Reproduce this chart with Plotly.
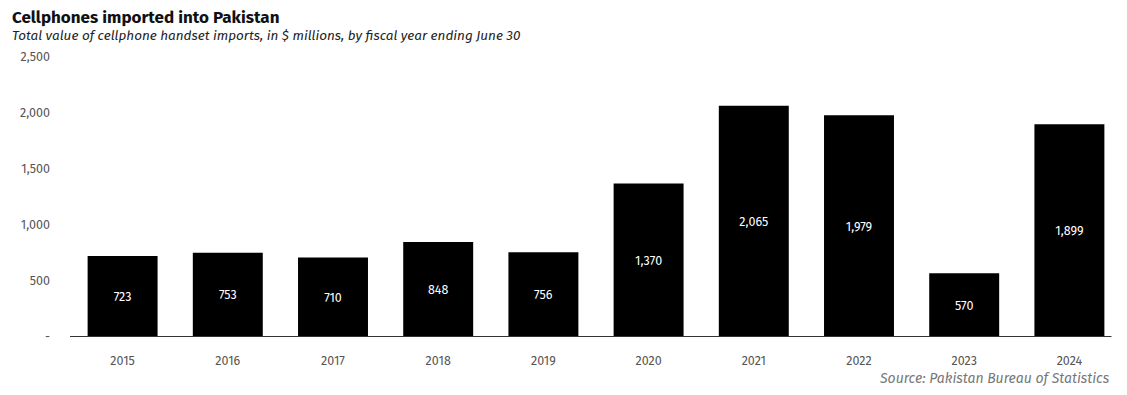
import plotly.graph_objects as go

years = ["2015", "2016", "2017", "2018", "2019", "2020", "2021", "2022", "2023", "2024"]
values = [723, 753, 710, 848, 756, 1370, 2065, 1979, 570, 1899]
ytick_vals = [0, 500, 1000, 1500, 2000, 2500]
ytick_text = ["-", "500", "1,000", "1,500", "2,000", "2,500"]

title = "Cellphones imported into Pakistan"
subtitle = "Total value of cellphone handset imports, in $ millions, by fiscal year ending June 30"
source = "Source: Pakistan Bureau of Statistics"

FONT = "Fira Sans, Noto Sans, Open Sans, sans-serif"

fig = go.Figure()
fig.add_trace(go.Bar(
    x=years, y=values,
    marker=dict(color="#000000", line=dict(width=0)),
    width=0.665,
    text=[f"{v:,}" for v in values],
    textposition="inside",
    insidetextanchor="middle",
    textfont=dict(color="white", size=12.5, family=FONT),
    hoverinfo="skip",
))

# page body has an 8px margin; compensate so the plot area sits where the reference has it
fig.update_layout(
    width=1119, height=387,
    margin=dict(l=62, r=5, t=49, b=58),
    paper_bgcolor="white", plot_bgcolor="white",
    showlegend=False,
    font=dict(family=FONT, color="#555555", size=12),
    xaxis=dict(
        type="category", range=[-0.5, 9.5],
        showgrid=False, zeroline=False, showline=False,
        ticks="", ticklabelstandoff=14,
        tickfont=dict(size=12.5, color="#555555"),
    ),
    yaxis=dict(
        range=[0, 2500], tickvals=ytick_vals, ticktext=ytick_text,
        showgrid=False, zeroline=False, showline=False,
        ticks="", ticklabelstandoff=19,
        tickfont=dict(size=12.5, color="#555555"),
    ),
)

fig.add_shape(type="line", xref="x", yref="y", x0=-0.5, x1=9.4, y0=0, y1=0,
              line=dict(color="#333333", width=2), layer="above")

fig.add_annotation(text=f"<b>{title}</b>", xref="paper", yref="paper",
                   x=-0.057, y=1.0, yshift=40, xanchor="left", yanchor="middle",
                   showarrow=False, font=dict(size=17, color="#111111", family=FONT))
fig.add_annotation(text=f"<i>{subtitle}</i>", xref="paper", yref="paper",
                   x=-0.057, y=1.0, yshift=22, xanchor="left", yanchor="middle",
                   showarrow=False, font=dict(size=13.5, color="#222222", family=FONT))
fig.add_annotation(text=f"<i>{source}</i>", xref="paper", yref="paper",
                   x=0.9905, y=0, yshift=-41, xanchor="right", yanchor="middle",
                   showarrow=False, font=dict(size=14, color="#777777", family=FONT))

fig.write_html("out.html")
